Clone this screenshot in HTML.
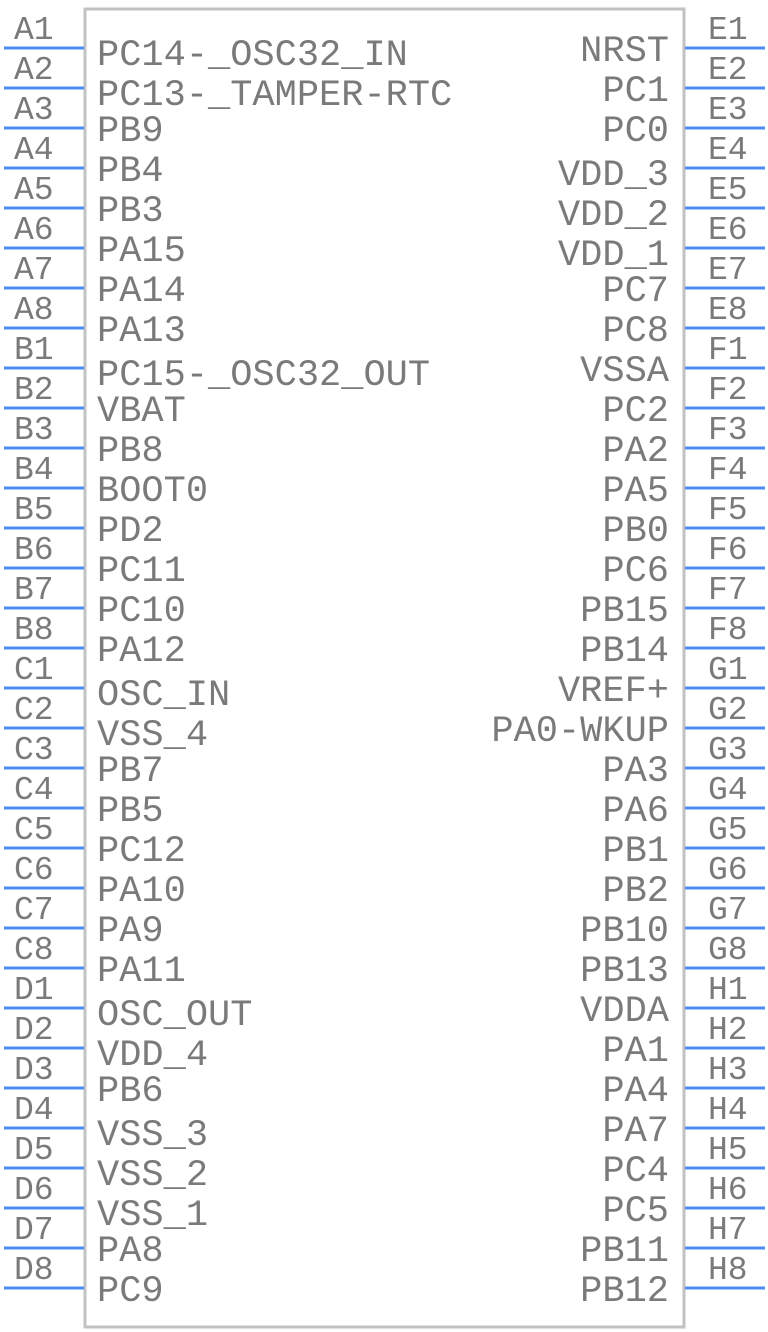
<!DOCTYPE html>
<html><head><style>html,body{margin:0;padding:0;background:#fff}svg{display:block}</style></head><body>
<svg width="768" height="1332" xmlns="http://www.w3.org/2000/svg">
<rect x="85" y="9" width="599" height="1318" fill="none" stroke="#c2c2c2" stroke-width="3"/>
<g stroke="#4a8ef0" stroke-width="3">
<path d="M4 48H84M4 88H84M4 128H84M4 168H84M4 208H84M4 248H84M4 288H84M4 328H84M4 368H84M4 408H84M4 448H84M4 488H84M4 528H84M4 568H84M4 608H84M4 648H84M4 688H84M4 728H84M4 768H84M4 808H84M4 848H84M4 888H84M4 928H84M4 968H84M4 1008H84M4 1048H84M4 1088H84M4 1128H84M4 1168H84M4 1208H84M4 1248H84M4 1288H84"/>
<path d="M685 48H765M685 88H765M685 128H765M685 168H765M685 208H765M685 248H765M685 288H765M685 328H765M685 368H765M685 408H765M685 448H765M685 488H765M685 528H765M685 568H765M685 608H765M685 648H765M685 688H765M685 728H765M685 768H765M685 808H765M685 848H765M685 888H765M685 928H765M685 968H765M685 1008H765M685 1048H765M685 1088H765M685 1128H765M685 1168H765M685 1208H765M685 1248H765M685 1288H765"/>
</g>
<g font-family="Liberation Mono, monospace" font-size="33" fill="#7a7a7a">
<text x="14" y="39">A1</text><text x="14" y="79">A2</text><text x="14" y="119">A3</text><text x="14" y="159">A4</text><text x="14" y="199">A5</text><text x="14" y="239">A6</text><text x="14" y="279">A7</text><text x="14" y="319">A8</text>
<text x="14" y="359">B1</text><text x="14" y="399">B2</text><text x="14" y="439">B3</text><text x="14" y="479">B4</text><text x="14" y="519">B5</text><text x="14" y="559">B6</text><text x="14" y="599">B7</text><text x="14" y="639">B8</text>
<text x="14" y="679">C1</text><text x="14" y="719">C2</text><text x="14" y="759">C3</text><text x="14" y="799">C4</text><text x="14" y="839">C5</text><text x="14" y="879">C6</text><text x="14" y="919">C7</text><text x="14" y="959">C8</text>
<text x="14" y="999">D1</text><text x="14" y="1039">D2</text><text x="14" y="1079">D3</text><text x="14" y="1119">D4</text><text x="14" y="1159">D5</text><text x="14" y="1199">D6</text><text x="14" y="1239">D7</text><text x="14" y="1279">D8</text>
<text x="708" y="39">E1</text><text x="708" y="79">E2</text><text x="708" y="119">E3</text><text x="708" y="159">E4</text><text x="708" y="199">E5</text><text x="708" y="239">E6</text><text x="708" y="279">E7</text><text x="708" y="319">E8</text>
<text x="708" y="359">F1</text><text x="708" y="399">F2</text><text x="708" y="439">F3</text><text x="708" y="479">F4</text><text x="708" y="519">F5</text><text x="708" y="559">F6</text><text x="708" y="599">F7</text><text x="708" y="639">F8</text>
<text x="708" y="679">G1</text><text x="708" y="719">G2</text><text x="708" y="759">G3</text><text x="708" y="799">G4</text><text x="708" y="839">G5</text><text x="708" y="879">G6</text><text x="708" y="919">G7</text><text x="708" y="959">G8</text>
<text x="708" y="999">H1</text><text x="708" y="1039">H2</text><text x="708" y="1079">H3</text><text x="708" y="1119">H4</text><text x="708" y="1159">H5</text><text x="708" y="1199">H6</text><text x="708" y="1239">H7</text><text x="708" y="1279">H8</text>
</g>
<g font-family="Liberation Mono, monospace" font-size="37" fill="#7a7a7a">
<text x="97" y="65">PC14-_OSC32_IN</text><text x="97" y="105">PC13-_TAMPER-RTC</text><text x="97" y="141">PB9</text><text x="97" y="181">PB4</text><text x="97" y="221">PB3</text><text x="97" y="261">PA15</text><text x="97" y="301">PA14</text><text x="97" y="341">PA13</text>
<text x="97" y="385">PC15-_OSC32_OUT</text><text x="97" y="421">VBAT</text><text x="97" y="461">PB8</text><text x="97" y="501">BOOT0</text><text x="97" y="541">PD2</text><text x="97" y="581">PC11</text><text x="97" y="621">PC10</text><text x="97" y="661">PA12</text>
<text x="97" y="705">OSC_IN</text><text x="97" y="745">VSS_4</text><text x="97" y="781">PB7</text><text x="97" y="821">PB5</text><text x="97" y="861">PC12</text><text x="97" y="901">PA10</text><text x="97" y="941">PA9</text><text x="97" y="981">PA11</text>
<text x="97" y="1025">OSC_OUT</text><text x="97" y="1065">VDD_4</text><text x="97" y="1101">PB6</text><text x="97" y="1145">VSS_3</text><text x="97" y="1185">VSS_2</text><text x="97" y="1225">VSS_1</text><text x="97" y="1261">PA8</text><text x="97" y="1301">PC9</text>
</g>
<g font-family="Liberation Mono, monospace" font-size="37" fill="#7a7a7a" text-anchor="end">
<text x="669" y="61">NRST</text><text x="669" y="101">PC1</text><text x="669" y="141">PC0</text><text x="669" y="185">VDD_3</text><text x="669" y="225">VDD_2</text><text x="669" y="265">VDD_1</text><text x="669" y="301">PC7</text><text x="669" y="341">PC8</text>
<text x="669" y="381">VSSA</text><text x="669" y="421">PC2</text><text x="669" y="461">PA2</text><text x="669" y="501">PA5</text><text x="669" y="541">PB0</text><text x="669" y="581">PC6</text><text x="669" y="621">PB15</text><text x="669" y="661">PB14</text>
<text x="669" y="701">VREF+</text><text x="669" y="741">PA0-WKUP</text><text x="669" y="781">PA3</text><text x="669" y="821">PA6</text><text x="669" y="861">PB1</text><text x="669" y="901">PB2</text><text x="669" y="941">PB10</text><text x="669" y="981">PB13</text>
<text x="669" y="1021">VDDA</text><text x="669" y="1061">PA1</text><text x="669" y="1101">PA4</text><text x="669" y="1141">PA7</text><text x="669" y="1181">PC4</text><text x="669" y="1221">PC5</text><text x="669" y="1261">PB11</text><text x="669" y="1301">PB12</text>
</g>
</svg>
</body></html>
